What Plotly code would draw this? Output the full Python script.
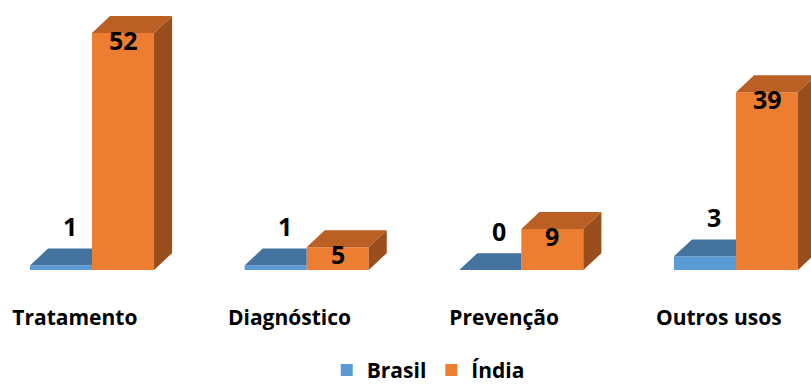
import plotly.graph_objects as go

# Pedidos de patente por finalidade
categorias = ["Tratamento", "Diagnóstico", "Prevenção", "Outros usos"]
brasil = [1, 1, 0, 3]
india = [52, 5, 9, 39]

# Geometry of the pseudo-3D columns (x in category units, y in data units)
BAR_W = 0.289
DX = 0.084
DY = 3.7

AZUL = "#5B9BD5"
AZUL_TOPO = "#44739F"
LARANJA = "#ED7D31"
LARANJA_TOPO = "#BA6024"
LARANJA_LADO = "#9A4E1D"

FONTE = "Open Sans"

fig = go.Figure()

# Front faces as bars
fig.add_trace(go.Bar(
    x=list(range(len(categorias))), y=brasil, name="Brasil",
    width=BAR_W, offset=-BAR_W, marker=dict(color=AZUL, line=dict(width=0)),
))
fig.add_trace(go.Bar(
    x=list(range(len(categorias))), y=india, name="Índia",
    width=BAR_W, offset=0, marker=dict(color=LARANJA, line=dict(width=0)),
))


def poly(xs, ys, pts):
    for px, py in pts:
        xs.append(px)
        ys.append(py)
    xs.append(pts[0][0])
    ys.append(pts[0][1])
    xs.append(None)
    ys.append(None)


# Top faces of the Brasil columns (right part hidden behind the Índia column)
bx, by = [], []
for i, (b, d) in enumerate(zip(brasil, india)):
    x0, x1 = i - BAR_W, i
    if d >= b + DY:
        pts = [(x0, b), (x1, b), (x1, b + DY), (x0 + DX, b + DY)]
    else:
        pts = [(x0, b), (x1, b), (x1 + DX, b + DY), (x0 + DX, b + DY)]
    poly(bx, by, pts)

fig.add_trace(go.Scatter(
    x=bx, y=by, mode="lines", fill="toself", fillcolor=AZUL_TOPO,
    line=dict(width=0), showlegend=False, hoverinfo="skip",
))

# Top and side faces of the Índia columns
tx, ty, sx, sy = [], [], [], []
for i, d in enumerate(india):
    x0, x1 = i, i + BAR_W
    poly(tx, ty, [(x0, d), (x1, d), (x1 + DX, d + DY), (x0 + DX, d + DY)])
    poly(sx, sy, [(x1, 0), (x1, d), (x1 + DX, d + DY), (x1 + DX, DY)])

fig.add_trace(go.Scatter(
    x=tx, y=ty, mode="lines", fill="toself", fillcolor=LARANJA_TOPO,
    line=dict(width=0), showlegend=False, hoverinfo="skip",
))
fig.add_trace(go.Scatter(
    x=sx, y=sy, mode="lines", fill="toself", fillcolor=LARANJA_LADO,
    line=dict(width=0), showlegend=False, hoverinfo="skip",
))

# Value labels
rotulo = dict(family=FONTE, size=25, color="black", weight="bold")
for i, (b, d) in enumerate(zip(brasil, india)):
    fig.add_annotation(
        x=i - BAR_W / 2 + DX / 2, y=b, text=str(b), showarrow=False,
        xref="x", yref="y", yanchor="middle", yshift=39, font=rotulo,
    )
    fig.add_annotation(
        x=i + BAR_W / 2, y=d, text=str(d), showarrow=False,
        xref="x", yref="y", yanchor="middle", yshift=-7, font=rotulo,
    )

fig.update_layout(
    width=811, height=385,
    margin=dict(l=0, r=0, t=0, b=115, autoexpand=False),
    paper_bgcolor="white", plot_bgcolor="white",
    barmode="overlay",
    showlegend=True,
    legend=dict(
        orientation="h", x=0.528, xanchor="center",
        yref="container", y=0.038, yanchor="middle",
        font=dict(family=FONTE, size=21, color="black", weight="bold"),
        traceorder="normal", itemwidth=30,
    ),
    xaxis=dict(
        range=[-0.4286, 3.3494], showgrid=False, zeroline=False, showline=False,
        tickmode="array", tickvals=[i - 0.08 for i in range(len(categorias))],
        ticktext=categorias, ticks="", ticklabelstandoff=33,
        tickfont=dict(family=FONTE, size=21, color="black", weight="bold"),
        fixedrange=True, automargin=False,
    ),
    yaxis=dict(
        range=[0, 59.21], showgrid=False, zeroline=False, showline=False,
        showticklabels=False, fixedrange=True,
    ),
)

fig.write_html("out.html")
